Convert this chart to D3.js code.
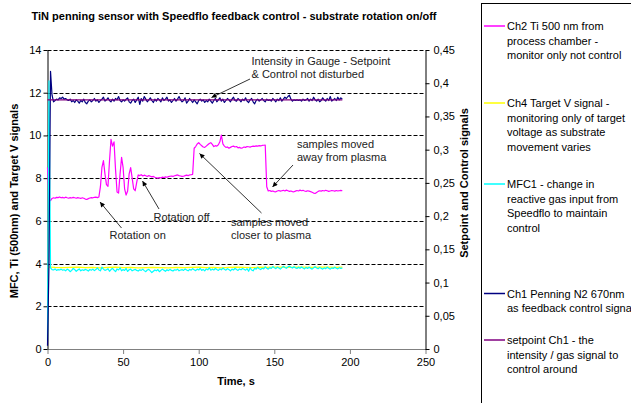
<!DOCTYPE html>
<html>
<head>
<meta charset="utf-8">
<script src="https://cdn.jsdelivr.net/npm/d3@7"></script>
<style>
  body { margin: 0; background: #fff; }
  svg { display: block; font-family: "Liberation Sans", Arial, sans-serif; }
</style>
</head>
<body>
<svg id="chart" width="631" height="403"></svg>
<script>
// ---- data -------------------------------------------------------------
const titleText = "TiN penning sensor with Speedflo feedback control - substrate rotation on/off";
const xTitle = "Time, s";
const yLeftTitle = "MFC, Ti (500nm) and Target V signals";
const yRightTitle = "Setpoint and Control signals";

const timeTicks = [0, 50, 100, 150, 200, 250];
const leftTicks = [0, 2, 4, 6, 8, 10, 12, 14];
const rightTicks = [0, 0.05, 0.1, 0.15, 0.2, 0.25, 0.3, 0.35, 0.4, 0.45];

// one sample per second, t = 0 .. 195 s
const sampleTimes = d3.range(0, 196, 1);
// target voltage logged every 5 s
const ch4Times = d3.range(0, 196, 5);
const setpointTimes = [0, 195];

// Ch2 Ti 500 nm (left axis)
const ch2 = [
  8.50, 7.00, 6.95, 7.05, 7.08, 7.06, 7.10, 7.09, 7.12, 7.08,
  7.10, 7.07, 7.11, 7.08, 7.06, 7.09, 7.07, 7.10, 7.08, 7.06,
  7.09, 7.07, 7.05, 7.08, 7.06, 7.02, 7.00, 7.04, 7.07, 7.09,
  7.08, 7.10, 7.11, 7.09, 7.12, 7.60, 8.50, 8.82, 8.20, 7.70,
  7.62, 8.80, 9.82, 9.50, 9.70, 8.40, 7.35, 7.30, 8.20, 8.97,
  8.50, 7.50, 7.21, 7.40, 8.20, 8.49, 8.00, 7.50, 7.41, 7.80,
  8.15, 8.12, 8.16, 8.10, 8.14, 8.11, 8.08, 8.12, 8.09, 8.06,
  8.08, 8.04, 8.02, 8.00, 8.03, 8.01, 8.05, 8.03, 8.06, 8.04,
  8.07, 8.09, 8.10, 8.08, 8.11, 8.13, 8.15, 8.12, 8.10, 8.08,
  8.09, 8.12, 8.14, 8.12, 8.15, 8.16, 8.18, 9.40, 9.48, 9.60,
  9.66, 9.58, 9.52, 9.46, 9.44, 9.50, 9.56, 9.62, 9.66, 9.58,
  9.48, 9.52, 9.50, 9.56, 9.70, 10.02, 9.60, 9.50, 9.44, 9.46,
  9.40, 9.44, 9.48, 9.50, 9.46, 9.48, 9.42, 9.44, 9.40, 9.42,
  9.46, 9.44, 9.48, 9.47, 9.45, 9.48, 9.50, 9.49, 9.51, 9.50,
  9.52, 9.51, 9.53, 9.54, 9.55, 7.60, 7.40, 7.42, 7.38, 7.40,
  7.37, 7.36, 7.40, 7.42, 7.39, 7.41, 7.43, 7.40, 7.44, 7.41,
  7.38, 7.40, 7.37, 7.36, 7.39, 7.42, 7.40, 7.44, 7.41, 7.43,
  7.40, 7.38, 7.41, 7.39, 7.37, 7.34, 7.30, 7.28, 7.33, 7.38,
  7.41, 7.39, 7.42, 7.40, 7.43, 7.41, 7.38, 7.40, 7.42, 7.41,
  7.39, 7.42, 7.40, 7.41, 7.43, 7.41
];

// Ch4 target voltage (left axis)
const ch4 = [
  3.84, 3.82, 3.81, 3.82, 3.83, 3.81, 3.82, 3.80, 3.82, 3.83,
  3.81, 3.82, 3.80, 3.81, 3.82, 3.81, 3.80, 3.82, 3.81, 3.82,
  3.83, 3.81, 3.82, 3.80, 3.82, 3.83, 3.82, 3.81, 3.83, 3.82,
  3.84, 3.83, 3.82, 3.84, 3.83, 3.82, 3.83, 3.84, 3.82, 3.83
];

// MFC1 reactive gas flow (left axis)
const mfc1 = [
  0.40, 12.55, 3.80, 3.72, 3.70, 3.75, 3.68, 3.72, 3.70, 3.74,
  3.69, 3.71, 3.66, 3.74, 3.70, 3.62, 3.68, 3.77, 3.72, 3.64,
  3.70, 3.75, 3.66, 3.71, 3.68, 3.73, 3.70, 3.65, 3.72, 3.69,
  3.74, 3.67, 3.72, 3.80, 3.70, 3.66, 3.83, 3.74, 3.68, 3.71,
  3.76, 3.64, 3.72, 3.78, 3.69, 3.62, 3.75, 3.70, 3.80, 3.66,
  3.72, 3.68, 3.77, 3.63, 3.71, 3.74, 3.66, 3.70, 3.73, 3.68,
  3.65, 3.71, 3.68, 3.74, 3.67, 3.62, 3.70, 3.73, 3.66, 3.58,
  3.64, 3.70, 3.66, 3.72, 3.62, 3.68, 3.74, 3.69, 3.64, 3.71,
  3.67, 3.73, 3.68, 3.65, 3.71, 3.69, 3.74, 3.66, 3.70, 3.72,
  3.68, 3.75, 3.70, 3.66, 3.73, 3.69, 3.76, 3.71, 3.67, 3.74,
  3.70, 3.78, 3.68, 3.73, 3.66, 3.75, 3.71, 3.80, 3.69, 3.74,
  3.70, 3.77, 3.72, 3.68, 3.75, 3.71, 3.79, 3.73, 3.69, 3.76,
  3.72, 3.66, 3.74, 3.70, 3.78, 3.72, 3.68, 3.75, 3.71, 3.77,
  3.73, 3.69, 3.76, 3.64, 3.80, 3.70, 3.66, 3.78, 3.74, 3.82,
  3.76, 3.72, 3.79, 3.75, 3.84, 3.78, 3.74, 3.81, 3.77, 3.86,
  3.80, 3.76, 3.83, 3.79, 3.74, 3.81, 3.87, 3.82, 3.78, 3.84,
  3.88, 3.83, 3.79, 3.85, 3.80, 3.77, 3.83, 3.78, 3.84, 3.79,
  3.75, 3.82, 3.77, 3.83, 3.78, 3.74, 3.80, 3.85, 3.79, 3.76,
  3.82, 3.78, 3.74, 3.80, 3.76, 3.83, 3.78, 3.74, 3.80, 3.77,
  3.83, 3.78, 3.75, 3.81, 3.77, 3.80
];

// Ch1 Penning N2 670 nm control signal (right axis)
const ch1 = [
  0.005, 0.130, 0.418, 0.382, 0.372, 0.374, 0.376, 0.375, 0.378, 0.377,
  0.379, 0.376, 0.377, 0.375, 0.374, 0.376, 0.372, 0.374, 0.371, 0.375,
  0.373, 0.370, 0.374, 0.372, 0.376, 0.371, 0.369, 0.373, 0.375, 0.372,
  0.374, 0.377, 0.373, 0.375, 0.371, 0.374, 0.376, 0.379, 0.373, 0.375,
  0.378, 0.374, 0.372, 0.376, 0.373, 0.377, 0.375, 0.380, 0.374, 0.372,
  0.375, 0.373, 0.376, 0.378, 0.372, 0.370, 0.374, 0.376, 0.371, 0.375,
  0.379, 0.368, 0.377, 0.373, 0.380, 0.376, 0.372, 0.375, 0.378, 0.374,
  0.371, 0.376, 0.373, 0.377, 0.375, 0.372, 0.378, 0.374, 0.376, 0.379,
  0.373, 0.375, 0.371, 0.374, 0.377, 0.373, 0.376, 0.380, 0.375, 0.372,
  0.374, 0.378, 0.370, 0.373, 0.377, 0.374, 0.371, 0.375, 0.372, 0.369,
  0.374, 0.376, 0.373, 0.375, 0.371, 0.374, 0.372, 0.376, 0.373, 0.370,
  0.374, 0.377, 0.372, 0.375, 0.378, 0.373, 0.376, 0.371, 0.374, 0.377,
  0.375, 0.372, 0.376, 0.379, 0.374, 0.373, 0.377, 0.375, 0.372, 0.376,
  0.374, 0.378, 0.373, 0.371, 0.375, 0.377, 0.372, 0.369, 0.374, 0.376,
  0.373, 0.375, 0.377, 0.374, 0.372, 0.376, 0.374, 0.375, 0.373, 0.377,
  0.375, 0.372, 0.376, 0.374, 0.378, 0.373, 0.376, 0.379, 0.377, 0.380,
  0.382, 0.376, 0.373, 0.375, 0.374, 0.375, 0.374, 0.375, 0.373, 0.376,
  0.374, 0.375, 0.377, 0.373, 0.376, 0.374, 0.379, 0.375, 0.373, 0.376,
  0.372, 0.374, 0.378, 0.375, 0.373, 0.377, 0.374, 0.380, 0.373, 0.375,
  0.377, 0.374, 0.379, 0.375, 0.378, 0.376
];

// setpoint for Ch1 (right axis)
const setpoint = [0.375, 0.375];

const legendLabels = [
  ["Ch2 Ti 500 nm from", "process chamber -", "monitor only not control"],
  ["Ch4 Target V signal -", "monitoring only of target", "voltage as substrate", "movement varies"],
  ["MFC1 - change in", "reactive gas input from", "Speedflo to maintain", "control"],
  ["Ch1 Penning N2 670nm", "as feedback control signal"],
  ["setpoint Ch1 - the", "intensity / gas signal to", "control around"]
];

const notes = [
  { lines: ["Intensity in Gauge - Setpoint", "& Control not disturbed"], tx: 251.5, ty: 65, from: [250, 79], to: [211.5, 97.5] },
  { lines: ["samples moved", "away from plasma"], tx: 297, ty: 147.5, from: [293, 165], to: [272.5, 187] },
  { lines: ["samples moved", "closer to plasma"], tx: 231, ty: 226, from: [261.5, 213], to: [199.5, 153.5] },
  { lines: ["Rotation off"], tx: 153.5, ty: 221, from: [159, 209], to: [142.5, 181] },
  { lines: ["Rotation on"], tx: 109.5, ty: 239, from: [121.5, 228], to: [100, 202] }
];

// ---- layout -----------------------------------------------------------
const svg = d3.select("#chart");
const plot = { left: 47.5, right: 425.5, top: 50, bottom: 349 };

const x = d3.scaleLinear().domain([0, 250]).range([plot.left, plot.right]);
const yL = d3.scaleLinear().domain([0, 14]).range([plot.bottom, plot.top]);
const yR = d3.scaleLinear().domain([0, 0.45]).range([plot.bottom, plot.top]);

const series = [
  { times: sampleTimes, values: ch2, scale: yL, color: "#FF00FF" },
  { times: ch4Times, values: ch4, scale: yL, color: "#FFFF00" },
  { times: sampleTimes, values: mfc1, scale: yL, color: "#00FFFF" },
  { times: sampleTimes, values: ch1, scale: yR, color: "#000080" },
  { times: setpointTimes, values: setpoint, scale: yR, color: "#800080" }
];

// title
svg.append("text")
  .attr("x", 234).attr("y", 20)
  .attr("text-anchor", "middle")
  .attr("font-size", 11).attr("font-weight", "bold")
  .text(titleText);

// dashed horizontal gridlines
svg.append("g").selectAll("line")
  .data(leftTicks.filter(d => d > 0))
  .join("line")
  .attr("x1", plot.left).attr("x2", plot.right)
  .attr("y1", d => Math.round(yL(d)) + 0.5).attr("y2", d => Math.round(yL(d)) + 0.5)
  .attr("stroke", "#000").attr("stroke-width", 1)
  .attr("stroke-dasharray", "4,2");

function styleAxis(g, domainColor) {
  g.selectAll("text").attr("font-size", 11).attr("fill", "#000")
    .attr("font-family", "\"Liberation Sans\", Arial, sans-serif");
  g.select(".domain").attr("stroke", domainColor);
  g.selectAll(".tick line").attr("stroke", domainColor);
}

// bottom axis
svg.append("g")
  .attr("transform", `translate(0,${plot.bottom})`)
  .call(d3.axisBottom(x).tickValues(timeTicks).tickSize(5).tickPadding(4).tickSizeOuter(0))
  .call(g => styleAxis(g, "#808080"));

// left axis
svg.append("g")
  .attr("transform", `translate(${plot.left},0)`)
  .call(d3.axisLeft(yL).tickValues(leftTicks).tickSize(4).tickPadding(2).tickSizeOuter(0))
  .call(g => styleAxis(g, "#000"));

// right axis
svg.append("g")
  .attr("transform", `translate(${plot.right},0)`)
  .call(d3.axisRight(yR).tickValues(rightTicks).tickSize(4).tickPadding(4).tickSizeOuter(0)
    .tickFormat(d => String(+d.toFixed(2)).replace(".", ",")))
  .call(g => styleAxis(g, "#000"));

// axis titles
svg.append("text")
  .attr("x", 236).attr("y", 385)
  .attr("text-anchor", "middle")
  .attr("font-size", 11).attr("font-weight", "bold")
  .text(xTitle);

svg.append("text")
  .attr("transform", "translate(18,201) rotate(-90)")
  .attr("text-anchor", "middle")
  .attr("font-size", 11).attr("font-weight", "bold")
  .text(yLeftTitle);

svg.append("text")
  .attr("transform", "translate(467.5,183) rotate(-90)")
  .attr("text-anchor", "middle")
  .attr("font-size", 11).attr("font-weight", "bold")
  .text(yRightTitle);

// data lines
const lines = svg.append("g").attr("fill", "none");
series.forEach(s => {
  const line = d3.line()
    .x((d, i) => x(s.times[i]))
    .y(d => s.scale(d));
  lines.append("path")
    .datum(s.values)
    .attr("d", line)
    .attr("stroke", s.color)
    .attr("stroke-width", 1.2)
    .attr("stroke-linejoin", "round");
});

// annotation arrows
svg.append("defs").append("marker")
  .attr("id", "arrowhead")
  .attr("viewBox", "0 0 10 10")
  .attr("refX", 10).attr("refY", 5)
  .attr("markerWidth", 7).attr("markerHeight", 5)
  .attr("markerUnits", "userSpaceOnUse")
  .attr("orient", "auto")
  .append("path").attr("d", "M0,0 L10,5 L0,10 Z").attr("fill", "#000");

const noteG = svg.append("g");
notes.forEach(n => {
  noteG.append("line")
    .attr("x1", n.from[0]).attr("y1", n.from[1])
    .attr("x2", n.to[0]).attr("y2", n.to[1])
    .attr("stroke", "#000").attr("stroke-width", 0.8)
    .attr("marker-end", "url(#arrowhead)");
  const t = noteG.append("text")
    .attr("font-size", 11).attr("fill", "#222");
  n.lines.forEach((s, i) => {
    t.append("tspan").attr("x", n.tx).attr("y", n.ty + i * 13).text(s);
  });
});

// legend
const legendTop = [30, 107, 188, 297.5, 344];
const legend = svg.append("g");
legend.append("rect")
  .attr("x", 481.5).attr("y", 3.5)
  .attr("width", 200).attr("height", 450)
  .attr("fill", "#fff").attr("stroke", "#000").attr("stroke-width", 1);
legendLabels.forEach((lbls, k) => {
  const base = legendTop[k];
  legend.append("line")
    .attr("x1", 484).attr("x2", 505)
    .attr("y1", base - 4).attr("y2", base - 4)
    .attr("stroke", series[k].color).attr("stroke-width", 1.5);
  const t = legend.append("text").attr("font-size", 11).attr("fill", "#000");
  lbls.forEach((s, i) => {
    t.append("tspan").attr("x", 507).attr("y", base + i * 14.7).text(s);
  });
});
</script>
</body>
</html>
